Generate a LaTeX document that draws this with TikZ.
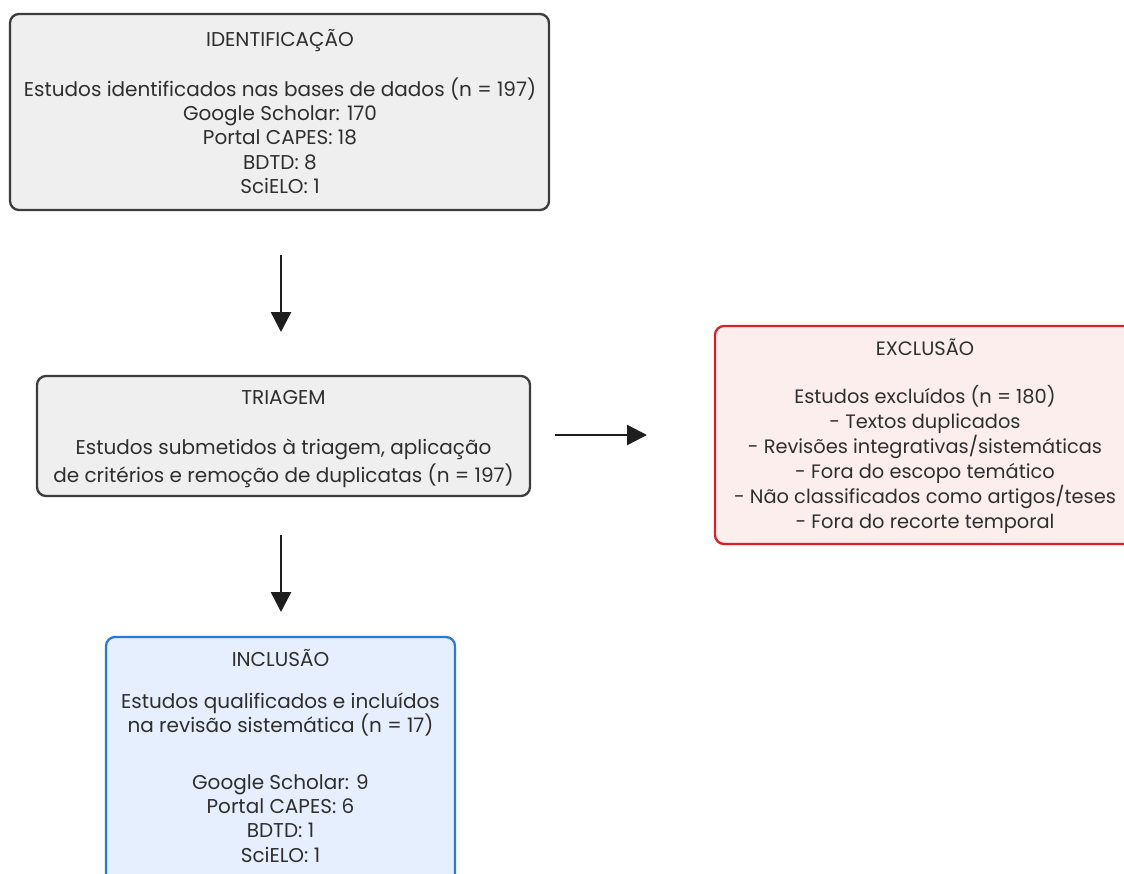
\documentclass[tikz,border=0pt]{standalone}
\usepackage{fontspec}
\setmainfont{Poppins}
\usetikzlibrary{arrows.meta}
\definecolor{txtc}{HTML}{2E2E2E}
\definecolor{grayfill}{HTML}{EFEFEF}
\definecolor{grayline}{HTML}{3C3C3C}
\definecolor{redfill}{HTML}{FDEEEE}
\definecolor{redline}{HTML}{DC2027}
\definecolor{bluefill}{HTML}{E5EFFD}
\definecolor{blueline}{HTML}{2A78DE}
\definecolor{arrc}{HTML}{1E1E1E}
\tikzset{
  box/.style={draw, line width=2.3pt, rounded corners=9pt, inner sep=0pt},
  graybox/.style={box, draw=grayline, fill=grayfill},
  redbox/.style={box, draw=redline, fill=redfill},
  bluebox/.style={box, draw=blueline, fill=bluefill},
  txt/.style={text=txtc, align=center, inner sep=0pt, font=\fontsize{20}{24.3}\selectfont},
  exctxt/.style={txt, font=\fontsize{19.4}{25}\selectfont},
  arr/.style={draw=arrc, line width=2.4pt, -{Triangle[length=20pt,width=20pt]}}
}
\begin{document}
\begin{tikzpicture}[x=1pt,y=-1pt]
\useasboundingbox (0,0) rectangle (1124,873);
\clip (0,0) rectangle (1124,873);
\fill[white] (0,0) rectangle (1124,873);
% boxes
\node[graybox, minimum width=539pt, minimum height=196pt] (id) at (279.5,112) {};
\node[graybox, minimum width=493pt, minimum height=120pt] (tri) at (283.5,436) {};
\node[redbox, minimum width=420pt, minimum height=218pt] (exc) at (925,435) {};
\node[bluebox, minimum width=349pt, minimum height=260pt] (inc) at (280.5,767) {};
% texts (anchor base = baseline of last line)
\node[txt, anchor=base] (idt) at (280,193.5) {IDENTIFICAÇÃO\\[26pt]
Estudos identificados nas bases de dados (n = 197)\\
Google Scholar: 170\\
Portal CAPES: 18\\
BDTD: 8\\
SciELO: 1};
\node[txt, anchor=base] (trit) at (283.5,482) {TRIAGEM\\[25pt]
Estudos submetidos à triagem, aplicação\\[3.5pt]
de critérios e remoção de duplicatas (n = 197)};
\node[exctxt, anchor=base] (exct) at (925,528.5) {EXCLUSÃO\\[23pt]
Estudos excluídos (n = 180)\\
- Textos duplicados\\
- Revisões integrativas/sistemáticas\\
- Fora do escopo temático\\
- Não classificados como artigos/teses\\
- Fora do recorte temporal};
\node[txt, anchor=base] (inct) at (280.5,862) {INCLUSÃO\\[17.5pt]
Estudos qualificados e incluídos\\
na revisão sistemática (n = 17)\\[32.5pt]
Google Scholar: 9\\
Portal CAPES: 6\\
BDTD: 1\\
SciELO: 1};
% arrows
\coordinate (a1s) at (281,255);
\coordinate (a1e) at (281,332);
\coordinate (a2s) at (555,435);
\coordinate (a2e) at (647,435);
\coordinate (a3s) at (281,535);
\coordinate (a3e) at (281,612);
\draw[arr] (a1s) -- (a1e);
\draw[arr] (a2s) -- (a2e);
\draw[arr] (a3s) -- (a3e);
\end{tikzpicture}
\end{document}
